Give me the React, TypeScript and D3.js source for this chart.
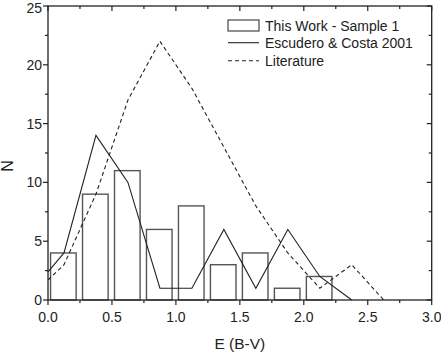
import React from "react";
import * as d3 from "d3";

const width = 441;
const height = 353;
const margin = { top: 6, right: 9.3, bottom: 53, left: 48 };

// histogram of this work (bin centres, counts)
const binCenters = [0.12, 0.37, 0.62, 0.87, 1.12, 1.37, 1.62, 1.87, 2.12];
const binCounts = [4, 9, 11, 6, 8, 3, 4, 1, 2];
const binWidth = 0.2;

// Escudero & Costa 2001
const escX = [0, 0.125, 0.375, 0.625, 0.875, 1.125, 1.375, 1.625, 1.875, 2.125, 2.375];
const escY = [2.4, 4, 14, 10, 1, 1, 6, 1, 6, 2, 0];

// Literature
const litX = [0, 0.125, 0.375, 0.625, 0.875, 1.125, 1.375, 1.625, 1.875, 2.125, 2.375, 2.625];
const litY = [1.7, 3, 9, 17, 22, 18, 13, 8, 4, 1, 3, 0];

const xTicks = [0, 0.5, 1, 1.5, 2, 2.5, 3];
const yTicks = [0, 5, 10, 15, 20, 25];

const legendLabels = ["This Work - Sample 1", "Escudero & Costa 2001", "Literature"];

const font = "Liberation Sans, Arial, sans-serif";
const ink = "#222";

export default function App() {
  const x = d3
    .scaleLinear()
    .domain([0, 3])
    .range([margin.left, width - margin.right]);
  const y = d3
    .scaleLinear()
    .domain([0, 25])
    .range([height - margin.bottom, margin.top]);

  const [x0, x1] = x.range();
  const [y0, y1] = y.range();

  const line = d3
    .line<[number, number]>()
    .x(d => x(d[0]))
    .y(d => y(d[1]));

  const escPath = line(escX.map((v, i) => [v, escY[i]] as [number, number]));
  const litPath = line(litX.map((v, i) => [v, litY[i]] as [number, number]));

  const xMinor = d3.range(0, 3.001, 0.25);
  const yMinor = d3.range(0, 25.001, 2.5);
  const isMajorX = (v: number) => Math.abs(v * 2 - Math.round(v * 2)) < 1e-6;
  const isMajorY = (v: number) => Math.abs(v / 5 - Math.round(v / 5)) < 1e-6;

  const lx = 228;
  const lw = 31;
  const rowY = [25.5, 42.7, 60.7];

  return (
    <svg
      width={width}
      height={height}
      style={{ position: "absolute", left: 0, top: 0, background: "#fff" }}
    >
      {/* bars */}
      {binCenters.map((c, i) => (
        <rect
          key={i}
          x={x(c - binWidth / 2)}
          y={y(binCounts[i])}
          width={x(c + binWidth / 2) - x(c - binWidth / 2)}
          height={y(0) - y(binCounts[i])}
          fill="none"
          stroke="#555"
          strokeWidth={1.4}
        />
      ))}

      {/* lines */}
      <path d={escPath || ""} fill="none" stroke={ink} strokeWidth={1.1} />
      <path
        d={litPath || ""}
        fill="none"
        stroke={ink}
        strokeWidth={1.1}
        strokeDasharray="4,3"
      />

      {/* frame */}
      <rect
        x={x0}
        y={y1}
        width={x1 - x0}
        height={y0 - y1}
        fill="none"
        stroke={ink}
        strokeWidth={1.3}
      />

      {/* x ticks: bottom outward, top inward */}
      {xMinor.map((v, i) => {
        const len = isMajorX(v) ? 5 : 3;
        return (
          <g key={i} stroke={ink} strokeWidth={1.2}>
            <line x1={x(v)} x2={x(v)} y1={y0} y2={y0 + len} />
            <line x1={x(v)} x2={x(v)} y1={y1} y2={y1 + len} />
          </g>
        );
      })}
      {/* y ticks: left outward, right inward */}
      {yMinor.map((v, i) => {
        const len = isMajorY(v) ? 5 : 3;
        return (
          <g key={i} stroke={ink} strokeWidth={1.2}>
            <line x1={x0 - len} x2={x0} y1={y(v)} y2={y(v)} />
            <line x1={x1 - len} x2={x1} y1={y(v)} y2={y(v)} />
          </g>
        );
      })}

      {/* tick labels */}
      {xTicks.map(v => (
        <text
          key={v}
          x={x(v)}
          y={y0 + 21.7}
          textAnchor="middle"
          fontFamily={font}
          fontSize={14}
          fill={ink}
        >
          {v.toFixed(1)}
        </text>
      ))}
      {yTicks.map(v => (
        <text
          key={v}
          x={42}
          y={Math.max(y(v) + 5, 13.3)}
          textAnchor="end"
          fontFamily={font}
          fontSize={14}
          fill={ink}
        >
          {v}
        </text>
      ))}

      {/* axis titles */}
      <text
        x={(x0 + x1) / 2}
        y={349}
        textAnchor="middle"
        fontFamily={font}
        fontSize={15.5}
        fill={ink}
      >
        E (B-V)
      </text>
      <text
        transform={`translate(13.3, 166) rotate(-90)`}
        textAnchor="middle"
        fontFamily={font}
        fontSize={16}
        fill={ink}
      >
        N
      </text>

      {/* legend */}
      <rect
        x={lx}
        y={20}
        width={lw}
        height={11}
        fill="none"
        stroke="#555"
        strokeWidth={1.3}
      />
      <line x1={lx} x2={lx + lw} y1={rowY[1]} y2={rowY[1]} stroke={ink} strokeWidth={1.1} />
      <line
        x1={lx}
        x2={lx + lw}
        y1={rowY[2]}
        y2={rowY[2]}
        stroke={ink}
        strokeWidth={1.1}
        strokeDasharray="4,3"
      />
      {legendLabels.map((t, i) => (
        <text
          key={t}
          x={265}
          y={rowY[i] + 5.2}
          fontFamily={font}
          fontSize={14}
          fill={ink}
        >
          {t}
        </text>
      ))}
    </svg>
  );
}
